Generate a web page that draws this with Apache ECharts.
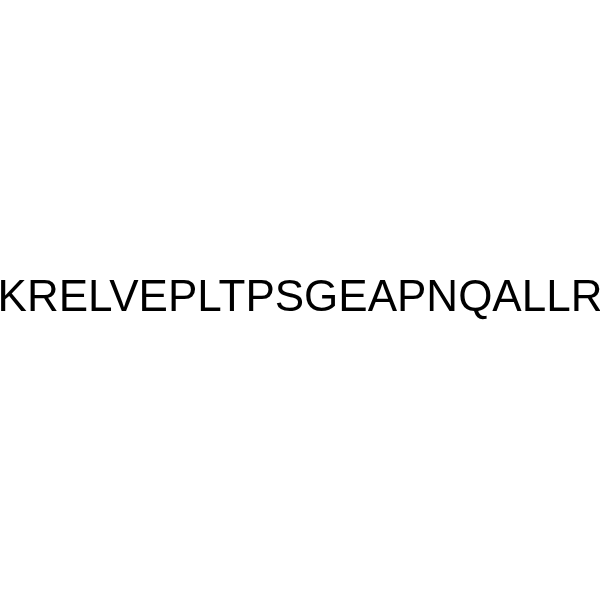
<!DOCTYPE html>
<html>
<head>
<meta charset="utf-8">
<script src="https://cdn.jsdelivr.net/npm/echarts@6/dist/echarts.min.js"></script>
<style>html,body{margin:0;padding:0;background:#fff}#c{width:600px;height:600px}</style>
</head>
<body>
<div id="c"></div>
<script>
const sequenceLabel = "KRELVEPLTPSGEAPNQALLR";
const chart = echarts.init(document.getElementById('c'));
chart.setOption({
  backgroundColor: '#ffffff',
  animation: false,
  graphic: [{
    type: 'text',
    left: 'center',
    top: 277,
    style: {
      text: sequenceLabel,
      fontFamily: 'Liberation Sans, Arial, sans-serif',
      fontSize: 44,
      fill: '#000000'
    }
  }]
});
</script>
</body>
</html>
